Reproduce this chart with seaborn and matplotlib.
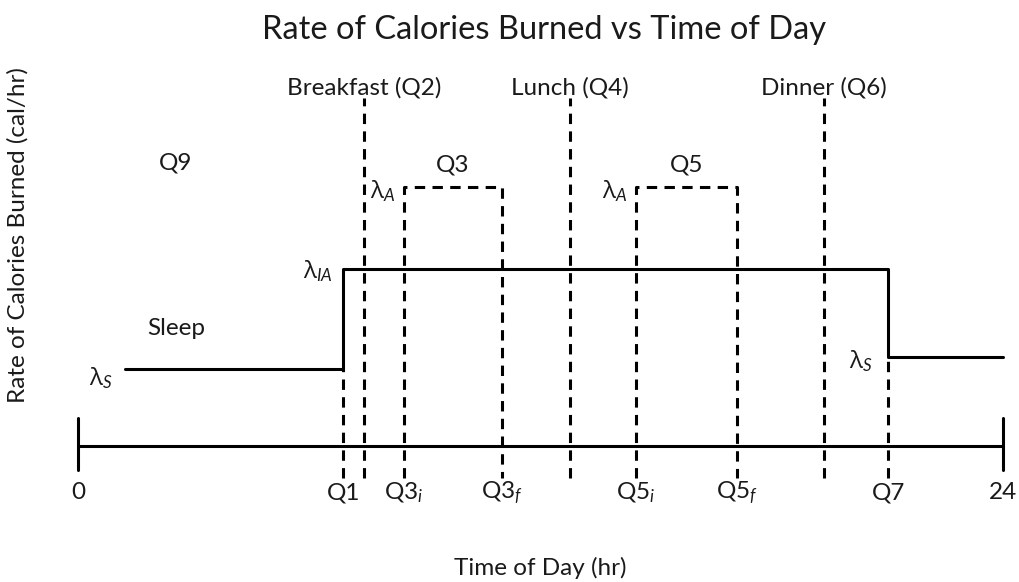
import matplotlib
matplotlib.use("Agg")
import matplotlib.pyplot as plt
import seaborn as sns
import pandas as pd

# --- data (hours of the day / relative burn-rate levels) ---
rate_time = [1.22, 6.88, 6.88, 21.02, 21.02, 24.0]
rate_level = [1.0, 1.0, 2.3, 2.3, 1.15, 1.15]

meal_times = [7.42, 12.77, 19.36]
meal_labels = ["Breakfast (Q2)", "Lunch (Q4)", "Dinner (Q6)"]

act_start = [8.46, 14.48]
act_end = [11.0, 17.1]
act_labels = ["Q3", "Q5"]
active_level = 3.36

tick_times = [0, 6.88, 8.46, 11.0, 14.48, 17.1, 21.02, 24]
tick_labels = ["0", "Q1", r"Q3$_{i}$", r"Q3$_{f}$", r"Q5$_{i}$", r"Q5$_{f}$", "Q7", "24"]

sns.set_theme(style="white")
plt.rcParams["font.family"] = ["Lato", "DejaVu Sans"]
plt.rcParams["mathtext.fontset"] = "custom"
plt.rcParams["mathtext.it"] = "Lato:italic"
plt.rcParams["mathtext.rm"] = "Lato"
plt.rcParams["text.color"] = "#1a1a1a"

fig = plt.figure(figsize=(10.19, 5.82), dpi=100)
ax = fig.add_axes([0, 0, 1, 1])
ax.set_xlim(-2.024, 24.416)
ax.set_ylim(-1.766, 5.792)
ax.axis("off")

lw = 2.2
dash = (0, (3.4, 2.4))
bottom = -0.42
fs = 17.5

# main rate step line
rate = pd.DataFrame({"time": rate_time, "rate": rate_level})
sns.lineplot(data=rate, x="time", y="rate", sort=False, estimator=None,
             color="black", linewidth=lw, ax=ax)

# time axis with end caps
ax.plot([0, 24], [0, 0], color="black", lw=lw)
for t in [0, 24]:
    ax.plot([t, t], [-0.31, 0.36], color="black", lw=lw)

# meal lines
for t, lab in zip(meal_times, meal_labels):
    ax.plot([t, t], [bottom, 4.52], color="black", lw=lw, linestyle=dash)
    ax.text(t, 4.65, lab, ha="center", va="center", fontsize=fs)

# activity windows
for s, e, lab in zip(act_start, act_end, act_labels):
    ax.plot([s, s, e, e], [bottom, active_level, active_level, bottom],
             color="black", lw=lw, linestyle=dash)
    ax.text((s + e) / 2, 3.65, lab, ha="center", va="center", fontsize=fs)
    ax.text(s - 0.22, 3.3, r"λ$_{A}$", ha="right", va="center", fontsize=fs,
            fontfamily="Open Sans")

# wake / sleep guides
ax.plot([6.88, 6.88], [bottom, 1.0], color="black", lw=lw, linestyle=dash)
ax.plot([21.02, 21.02], [bottom, 1.15], color="black", lw=lw, linestyle=dash)

ax.text(0.91, 0.88, r"λ$_{S}$", ha="right", va="center", fontsize=fs, fontfamily="Open Sans")
ax.text(6.62, 2.26, r"λ$_{IA}$", ha="right", va="center", fontsize=fs, fontfamily="Open Sans")
ax.text(20.63, 1.09, r"λ$_{S}$", ha="right", va="center", fontsize=fs, fontfamily="Open Sans")
ax.text(2.54, 1.53, "Sleep", ha="center", va="center", fontsize=fs)
ax.text(2.52, 3.68, "Q9", ha="center", va="center", fontsize=fs)

for t, lab in zip(tick_times, tick_labels):
    ax.text(t, -0.61, lab, ha="center", va="center", fontsize=fs)

fig.text(544 / 1019, 1 - 30 / 582, "Rate of Calories Burned vs Time of Day",
         ha="center", va="center", fontsize=23.5)
fig.text(540 / 1019, 1 - 568 / 582, "Time of Day (hr)", ha="center", va="center", fontsize=fs)
fig.text(18 / 1019, 1 - 235 / 582, "Rate of Calories Burned (cal/hr)", ha="center",
         va="center", rotation=90, fontsize=fs)

fig.savefig("out.png", dpi=100)
